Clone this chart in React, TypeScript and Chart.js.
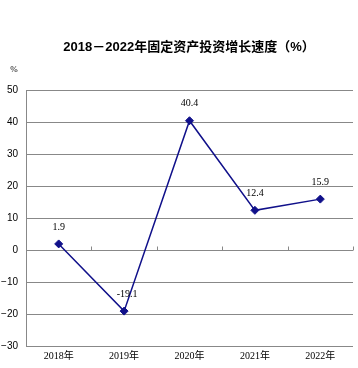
import React, { useEffect, useRef } from "react";
import { Chart, registerables } from "chart.js";

Chart.register(...registerables);

const categories = ["2018年", "2019年", "2020年", "2021年", "2022年"];
const growth = [1.9, -19.1, 40.4, 12.4, 15.9];
const growthLabels = ["1.9", "-19.1", "40.4", "12.4", "15.9"];
const titleText = "2018－2022年固定资产投资增长速度（%）";
const unitText = "%";
const yMin = -30;
const yMax = 50;
const yStep = 10;

const LINE_COLOR = "#10108a";
const SERIF = "'Liberation Serif', 'DejaVu Serif', 'Noto Sans CJK SC', serif";
const CJK = "'Liberation Serif', 'Noto Sans CJK SC', serif";
const TITLE_FONT = "bold 13px 'Liberation Sans', 'Noto Sans CJK SC', sans-serif";

const extrasPlugin = {
  id: "extras",
  afterDatasetsDraw(chart: any) {
    const ctx = chart.ctx;
    const x = chart.scales.x;
    const y = chart.scales.y;
    ctx.save();
    // title
    ctx.fillStyle = "#000";
    ctx.font = TITLE_FONT;
    ctx.textAlign = "center";
    ctx.textBaseline = "middle";
    ctx.fillText(titleText, 189, 47);
    // unit label
    ctx.font = "9px " + SERIF;
    ctx.fillText(unitText, 14, 70);
    // tick marks at the zero line between categories
    const y0 = Math.round(y.getPixelForValue(0)) + 0.5;
    const step = x.getPixelForValue(1) - x.getPixelForValue(0);
    ctx.strokeStyle = "#888";
    ctx.lineWidth = 1;
    for (let i = 0; i < categories.length; i++) {
      const xb = Math.round(x.getPixelForValue(i) + step / 2) + 0.5;
      ctx.beginPath();
      ctx.moveTo(xb, y0);
      ctx.lineTo(xb, y0 - 4);
      ctx.stroke();
    }
    // data labels
    const meta = chart.getDatasetMeta(0);
    ctx.font = "10px " + SERIF;
    meta.data.forEach((pt: any, i: number) => {
      ctx.fillText(growthLabels[i], pt.x + (growth[i] < 0 ? 3 : 0), pt.y - 17);
    });
    ctx.restore();
  },
};

export default function App() {
  const ref = useRef<HTMLCanvasElement>(null);
  useEffect(() => {
    if (!ref.current) return;
    const chart = new Chart(ref.current, {
      type: "line",
      data: {
        labels: categories,
        datasets: [
          {
            data: growth,
            borderColor: LINE_COLOR,
            backgroundColor: LINE_COLOR,
            borderWidth: 1.5,
            pointStyle: "rectRot",
            pointRadius: 4,
            pointBorderWidth: 1,
            tension: 0,
          },
        ],
      },
      options: {
        responsive: false,
        animation: false,
        layout: { padding: { left: 0, right: 4, top: 90, bottom: 0 } },
        plugins: {
          legend: { display: false },
          tooltip: { enabled: false },
          title: { display: false },
        },
        scales: {
          x: {
            offset: true,
            grid: { display: false, drawTicks: false },
            border: { display: false },
            ticks: {
              color: "#000",
              font: { size: 10, family: CJK },
              padding: 4,
              maxRotation: 0,
            },
            afterFit(scale: any) {
              scale.height = 22;
            },
          },
          y: {
            min: yMin,
            max: yMax,
            grid: { color: "#888", lineWidth: 1, drawTicks: false },
            border: { display: true, color: "#888", width: 1 },
            ticks: {
              stepSize: yStep,
              color: "#000",
              font: { size: 10, family: "'Liberation Sans', Arial, sans-serif" },
              padding: 8,
              callback: (v: any) => (Number(v) < 0 ? "−" + Math.abs(Number(v)) : String(v)),
            },
            afterFit(scale: any) {
              scale.width = 26;
            },
          },
        },
      },
      plugins: [extrasPlugin],
    });
    return () => chart.destroy();
  }, []);
  return (
    <div style={{ position: "fixed", left: 0, top: 0, width: 358, height: 368, background: "#fff" }}>
      <canvas ref={ref} width={358} height={368} />
    </div>
  );
}
